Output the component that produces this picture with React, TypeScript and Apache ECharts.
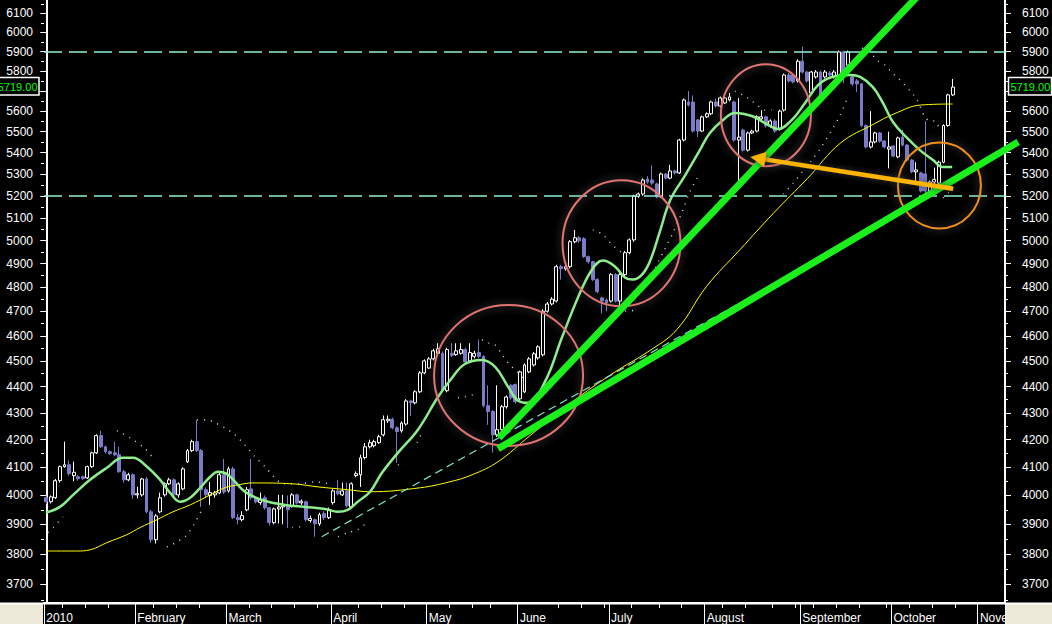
import React, { useEffect, useRef } from "react";
import * as echarts from "echarts";

// Daily candles, [open, high, low, close]
const jan: number[][] = [
  [3992, 4000, 3970, 3978], [3978, 4000, 3972, 3995], [3992, 4058, 3988, 4052], [4052, 4106, 4045, 4102],
  [4102, 4193, 4098, 4109], [4109, 4124, 4070, 4077], [4070, 4120, 4050, 4082], [4066, 4072, 4052, 4059],
  [4066, 4070, 4055, 4059], [4062, 4106, 4058, 4102], [4102, 4156, 4098, 4152], [4152, 4220, 4148, 4215],
  [4215, 4233, 4170, 4174], [4174, 4178, 4150, 4156], [4156, 4160, 4144, 4149], [4152, 4193, 4140, 4145],
  [4145, 4175, 4080, 4084], [4084, 4090, 4045, 4055], [4055, 4080, 4050, 4073], [4073, 4078, 3988, 4002],
];
const feb: number[][] = [
  [4002, 4030, 3990, 4006], [4002, 4062, 3996, 4058], [4058, 4065, 3938, 3943], [3943, 3950, 3838, 3848],
  [3848, 3935, 3835, 3929], [3943, 4010, 3938, 3992], [4002, 4046, 3996, 4041], [4041, 4062, 4036, 4055],
  [4055, 4060, 3995, 4002], [4002, 4046, 3992, 4041], [4023, 4100, 4018, 4094], [4120, 4166, 4115, 4160],
  [4160, 4200, 4155, 4193], [4193, 4274, 4155, 4160], [4160, 4166, 3960, 4020], [4020, 4028, 3990, 4002],
  [4000, 4048, 3967, 4010], [4002, 4016, 3992, 4009], [4009, 4080, 4004, 4073], [4073, 4130, 4005, 4012],
];
const mar: number[][] = [
  [4016, 4102, 4010, 4094], [4094, 4102, 3918, 3923], [3923, 3935, 3900, 3916], [3916, 3945, 3910, 3930],
  [3950, 4030, 3945, 4020], [4023, 4130, 3985, 3992], [3992, 3996, 3972, 3978], [3975, 4010, 3967, 3985],
  [3992, 4000, 3950, 3957], [3957, 3960, 3896, 3906], [3906, 3958, 3900, 3953], [3953, 4002, 3903, 3960],
  [3960, 4002, 3900, 3964], [3962, 4000, 3888, 3950], [3964, 4008, 3958, 4002], [4002, 4006, 3968, 3974],
  [3974, 3986, 3967, 3980], [3978, 3982, 3910, 3916], [3913, 3930, 3906, 3920], [3916, 3920, 3858, 3902],
  [3902, 3940, 3895, 3933], [3937, 3945, 3915, 3923], [3923, 3958, 3918, 3950],
];
const apr: number[][] = [
  [3975, 4022, 3968, 4016], [4016, 4055, 4000, 4006], [4002, 4045, 3998, 4016], [4016, 4045, 3958, 3964],
  [3960, 4046, 3955, 4041], [4070, 4085, 4064, 4077], [4073, 4145, 4030, 4134], [4135, 4188, 4128, 4174],
  [4174, 4200, 4168, 4189], [4178, 4200, 4172, 4193], [4189, 4218, 4185, 4211], [4218, 4290, 4212, 4274],
  [4270, 4290, 4262, 4276], [4276, 4282, 4238, 4244], [4244, 4250, 4116, 4230], [4233, 4268, 4226, 4262],
  [4258, 4352, 4252, 4345], [4345, 4350, 4288, 4338], [4338, 4386, 4332, 4380], [4380, 4460, 4375, 4453],
  [4453, 4506, 4448, 4500],
];
const may: number[][] = [
  [4472, 4515, 4468, 4508], [4508, 4548, 4502, 4540], [4530, 4570, 4525, 4548], [4530, 4538, 4380, 4388],
  [4384, 4552, 4378, 4545], [4530, 4570, 4515, 4522], [4525, 4570, 4520, 4540], [4530, 4570, 4525, 4545],
  [4545, 4552, 4490, 4496], [4500, 4570, 4494, 4533], [4518, 4540, 4510, 4530], [4533, 4585, 4510, 4518],
  [4518, 4522, 4320, 4327], [4327, 4405, 4255, 4305], [4305, 4310, 4153, 4218], [4218, 4405, 4210, 4237],
  [4237, 4330, 4230, 4323], [4323, 4366, 4316, 4360], [4405, 4410, 4350, 4357], [4408, 4412, 4335, 4342],
];
const jun: number[][] = [
  [4353, 4462, 4348, 4457], [4380, 4490, 4375, 4484], [4457, 4515, 4452, 4508], [4484, 4535, 4478, 4528],
  [4512, 4562, 4505, 4556], [4524, 4708, 4518, 4700], [4700, 4738, 4694, 4730], [4730, 4758, 4724, 4750],
  [4742, 4895, 4736, 4887], [4887, 4895, 4832, 4878], [4878, 4895, 4870, 4887], [4887, 5002, 4880, 4995],
  [4995, 5047, 4988, 5012], [5012, 5020, 4990, 4999], [5008, 5015, 4925, 4930], [4930, 4935, 4900, 4908],
  [4908, 4912, 4826, 4832], [4832, 4838, 4775, 4781], [4755, 4760, 4690, 4742], [4746, 4752, 4700, 4735],
];
const jul: number[][] = [
  [4742, 4860, 4736, 4853], [4853, 4860, 4736, 4742], [4742, 4860, 4700, 4853], [4853, 4955, 4846, 4947],
  [4947, 5010, 4940, 5003], [5003, 5205, 4995, 5198], [5198, 5215, 5190, 5208], [5208, 5280, 5200, 5272],
  [5277, 5290, 5255, 5263], [5272, 5340, 5250, 5258], [5254, 5260, 5188, 5195], [5195, 5306, 5190, 5300],
  [5300, 5306, 5275, 5281], [5281, 5343, 5276, 5314], [5314, 5320, 5298, 5305], [5305, 5466, 5300, 5460],
  [5460, 5662, 5454, 5655], [5645, 5700, 5622, 5630], [5645, 5677, 5496, 5503], [5557, 5562, 5474, 5503],
  [5503, 5578, 5498, 5572],
];
const aug: number[][] = [
  [5572, 5594, 5566, 5587], [5587, 5652, 5580, 5645], [5645, 5662, 5618, 5625], [5625, 5672, 5618, 5665],
  [5640, 5672, 5635, 5665], [5655, 5690, 5648, 5670], [5645, 5652, 5452, 5460], [5460, 5665, 5232, 5474],
  [5508, 5515, 5405, 5412], [5412, 5500, 5405, 5494], [5494, 5510, 5488, 5503], [5503, 5580, 5497, 5572],
  [5562, 5605, 5555, 5572], [5572, 5578, 5520, 5528], [5528, 5560, 5520, 5552], [5552, 5560, 5495, 5503],
  [5512, 5607, 5505, 5600], [5605, 5787, 5598, 5780], [5780, 5790, 5742, 5750], [5780, 5790, 5738, 5745],
  [5750, 5860, 5742, 5850],
];
const sep: number[][] = [
  [5850, 5925, 5788, 5795], [5795, 5800, 5742, 5750], [5690, 5800, 5682, 5795], [5770, 5805, 5762, 5795],
  [5795, 5802, 5662, 5670], [5770, 5805, 5762, 5795], [5790, 5800, 5772, 5780], [5770, 5805, 5762, 5795],
  [5770, 5905, 5762, 5898], [5898, 5905, 5740, 5770], [5830, 5905, 5820, 5898], [5770, 5780, 5725, 5735],
  [5750, 5760, 5695, 5735], [5735, 5740, 5522, 5530], [5530, 5535, 5420, 5427], [5427, 5600, 5420, 5451],
  [5451, 5500, 5444, 5494], [5494, 5500, 5448, 5455], [5455, 5460, 5420, 5427], [5417, 5500, 5326, 5427],
];
const oct: number[][] = [
  [5431, 5436, 5378, 5384], [5380, 5476, 5374, 5470], [5474, 5508, 5430, 5436], [5436, 5440, 5358, 5365],
  [5365, 5370, 5303, 5310], [5310, 5355, 5260, 5319], [5305, 5310, 5215, 5222], [5300, 5550, 5200, 5222],
  [5222, 5270, 5200, 5263], [5263, 5330, 5250, 5275], [5258, 5362, 5250, 5355], [5355, 5536, 5350, 5530],
  [5530, 5686, 5524, 5680], [5680, 5760, 5675, 5719],
];

// x axis: trading-day slots
const SLOTS = 211;
const monthStarts = [0, 20, 40, 63, 84, 104, 124, 145, 166, 186, 205];
const monthNames = ["2010", "February", "March", "April", "May", "June", "July", "August", "September", "October", "November"];
const weekTicks = [4, 9, 14, 24, 29, 34, 45, 50, 55, 60, 69, 74, 79, 89, 94, 98, 113, 118, 123, 129, 135, 140, 149, 154, 160, 165, 169, 174, 179, 185, 190, 195, 200];

// y axis (log scale)
const priceLabels = [3700, 3800, 3900, 4000, 4100, 4200, 4300, 4400, 4500, 4600, 4700, 4800, 4900, 5000, 5100, 5200, 5300, 5400, 5500, 5600, 5700, 5800, 5900, 6000, 6100];
const halfTicks = [3650, 3750, 3850, 3950, 4050, 4150, 4250, 4350, 4450, 4550, 4650, 4750, 4850, 4950, 5050, 5150, 5250, 5350, 5450, 5550, 5650, 5750, 5850, 5950, 6050, 6150];
const PRICE_MIN = 3640.5;
const PRICE_MAX = 6172.2;

// indicator lines, [slot, price]
const greenMA: number[][] = [
  [-0.1, 3940], [3.0, 3960], [5.9, 4002], [9.6, 4055], [13.3, 4098], [16.8, 4134], [19.0, 4134], [22.1, 4102],
  [25.0, 4055], [27.2, 4009], [29.4, 3978], [31.6, 3992], [33.8, 4027], [36.0, 4066], [37.7, 4084], [39.9, 4073],
  [43.6, 4013], [48.0, 3981], [52.4, 3967], [56.8, 3960], [61.2, 3953], [64.0, 3943], [66.2, 3950], [68.4, 3978],
  [71.1, 4013], [73.7, 4080], [77.2, 4152], [81.6, 4237], [86.0, 4360], [89.1, 4434], [91.9, 4488], [95.7, 4504],
  [98.6, 4476], [101.4, 4399], [103.6, 4346], [105.8, 4338], [109.5, 4419], [113.2, 4592], [116.7, 4755],
  [119.8, 4874], [122.2, 4913], [124.9, 4887], [127.1, 4840], [128.8, 4832], [130.8, 4853], [132.5, 4908],
  [134.7, 5038], [137.0, 5181], [140.2, 5291], [143.5, 5412], [145.7, 5494], [148.6, 5557], [151.2, 5591],
  [154.9, 5576], [157.8, 5542], [160.7, 5513], [163.7, 5557], [166.6, 5640], [169.5, 5730], [172.5, 5770],
  [176.5, 5780], [178.7, 5770], [181.5, 5719], [183.7, 5640], [185.9, 5547], [189.0, 5470], [191.8, 5412],
  [194.7, 5365], [196.7, 5333], [198.9, 5333],
];
const yellowMA: number[][] = [
  [-0.1, 3810], [6.7, 3810], [9.6, 3814], [13.3, 3838], [17.7, 3865], [20.6, 3889], [24.3, 3916], [27.8, 3943],
  [31.6, 3967], [36.0, 4002], [39.2, 4027], [42.1, 4037], [45.2, 4044], [54.0, 4041], [59.7, 4030], [66.2, 4020],
  [71.1, 4013], [82.1, 4027], [88.6, 4048], [93.5, 4073], [99.2, 4120], [106.2, 4215], [116.7, 4357],
  [124.9, 4457], [132.1, 4536], [138.4, 4624], [145.0, 4804], [152.3, 4960], [159.7, 5122], [167.2, 5281],
  [174.4, 5446], [181.7, 5537], [186.1, 5586], [192.0, 5630], [199.0, 5635],
];
const envelopeUpper: number[][][] = [
  [[15.5, 4233], [18.4, 4207], [21.7, 4167], [23.4, 4134]],
  [[33.1, 4274], [35.3, 4274], [37.0, 4263], [39.2, 4244], [41.4, 4218], [43.6, 4181], [45.8, 4138], [48.0, 4102],
   [50.2, 4062], [52.0, 4041], [55.7, 4041], [59.0, 4048], [61.9, 4041]],
  [[95.7, 4584], [97.0, 4572], [98.5, 4564], [100.1, 4524], [101.4, 4492], [103.4, 4457], [105.1, 4426]],
  [[120.0, 5047], [122.0, 5029], [124.2, 4982], [126.4, 4947]],
  [[151.2, 5699], [153.4, 5674], [154.9, 5650], [156.3, 5625], [157.8, 5605], [159.3, 5605]],
  [[179.1, 5918], [180.9, 5893], [182.6, 5851], [184.2, 5830], [185.7, 5790], [187.0, 5765], [188.5, 5729],
   [190.1, 5689], [191.2, 5655], [192.9, 5572], [194.0, 5552], [195.1, 5552], [196.2, 5503]],
];
const envelopeLower: number[][][] = [
  [[0.4, 3872], [1.5, 3889], [3.7, 3926]],
  [[26.5, 3824], [27.6, 3831], [28.7, 3841], [30.5, 3858], [32.4, 3899], [34.4, 3957]],
  [[54.0, 3889], [56.1, 3892]],
  [[64.1, 3858], [66.2, 3872], [68.4, 3882], [70.6, 3909]],
  [[77.2, 4109], [78.8, 4109]],
  [[81.4, 4189], [82.5, 4226]],
  [[90.4, 4357], [91.9, 4361], [93.5, 4368], [94.8, 4376]],
  [[127.1, 4701], [128.2, 4701], [129.3, 4705]],
  [[133.7, 4883], [135.5, 4951], [137.7, 5038], [139.6, 5127], [141.3, 5218], [142.9, 5281]],
  [[161.8, 5208], [164.0, 5258], [166.0, 5310], [168.1, 5365], [170.3, 5431], [172.5, 5508], [174.3, 5581], [176.0, 5670]],
  [[196.9, 5190], [198.0, 5213], [199.1, 5218]],
];

// drawn annotations, [slot, price]
const levelLines = [5900, 5200];
const dashedTrend: number[][] = [[60.5, 3858], [173.2, 4960]];
const steepTrend: number[][] = [[99.4, 4207], [194.9, 6287]];
const shallowTrend: number[][] = [[99.2, 4167], [213.4, 5451]];
const circleCenters: number[][] = [[101.5, 4443], [126.3, 4988], [158.0, 5580], [196.1, 5247]];
const arrowTail = [199.1, 5232];
const arrowTip = [154.6, 5379];
const lastClose = 5719;

const FONT = "'Liberation Sans', Arial, sans-serif";

export default function App() {
  const ref = useRef<HTMLDivElement>(null);

  useEffect(() => {
    const el = ref.current as HTMLDivElement;
    const chart = echarts.init(el, null, { renderer: "svg" });
    const L = Math.log;
    const candles = [...jan, ...feb, ...mar, ...apr, ...may, ...jun, ...jul, ...aug, ...sep, ...oct];
    const cats = Array.from({ length: SLOTS }, (_, i) => String(i));
    const monthSet = new Set(monthStarts);
    const weekSet = new Set(weekTicks);
    const toLog = (pts: number[][]) => pts.map((p) => [p[0], L(p[1])]);

    const yBase: any = {
      type: "value",
      min: L(PRICE_MIN),
      max: L(PRICE_MAX),
      splitLine: { show: false },
    };
    const majorAxis = (position: string, margin: number) => ({
      ...yBase,
      position,
      axisLine: { show: true, lineStyle: { color: "#ffffff", width: 2 } },
      axisTick: { show: true, length: 6, lineStyle: { color: "#ffffff", width: 1 }, customValues: priceLabels.map(L) },
      axisLabel: {
        show: true,
        customValues: priceLabels.map(L),
        formatter: (v: number) => String(Math.round(Math.exp(v))),
        color: "#ffffff",
        fontSize: 12,
        fontFamily: FONT,
        margin,
      },
    });
    const minorAxis = (position: string) => ({
      ...yBase,
      position,
      axisLine: { show: false },
      axisTick: { show: true, length: 3, lineStyle: { color: "#ffffff", width: 1 }, customValues: halfTicks.map(L) },
      axisLabel: { show: false },
    });

    const dotted = (seg: number[][]) => ({
      type: "line",
      xAxisIndex: 1,
      yAxisIndex: 0,
      data: toLog(seg),
      smooth: 0.3,
      symbol: "none",
      silent: true,
      z: 3,
      lineStyle: { color: "#d4d4d4", width: 1.5, type: [1, 6] },
    });

    const option: any = {
      animation: false,
      backgroundColor: "#000000",
      grid: { left: 44, right: 47, top: 0, bottom: 21 },
      xAxis: [
        {
          type: "category",
          data: cats,
          boundaryGap: true,
          position: "bottom",
          axisLine: { show: true, lineStyle: { color: "#ffffff", width: 2 } },
          axisTick: { show: true, length: 5, interval: (i: number) => weekSet.has(i), lineStyle: { color: "#ffffff", width: 1 } },
          axisLabel: { show: false },
          splitLine: { show: false },
        },
        { type: "value", min: -0.5, max: SLOTS - 0.5, show: false },
        {
          type: "category",
          data: cats,
          boundaryGap: true,
          position: "bottom",
          axisLine: { show: false },
          axisTick: { show: true, length: 21, interval: (i: number) => monthSet.has(i), lineStyle: { color: "#ffffff", width: 1 } },
          axisLabel: {
            show: true,
            interval: (i: number) => monthSet.has(i),
            formatter: (v: string) => {
              const k = monthStarts.indexOf(Number(v));
              return k >= 0 ? monthNames[k] : "";
            },
            color: "#ffffff",
            fontSize: 12,
            fontFamily: FONT,
            align: "left",
            margin: 9,
          },
          splitLine: { show: false },
        },
      ],
      yAxis: [majorAxis("left", 11), minorAxis("left"), majorAxis("right", 17), minorAxis("right")],
      series: [
        {
          type: "candlestick",
          xAxisIndex: 0,
          yAxisIndex: 0,
          barWidth: 3.4,
          data: candles.map((c) => [L(c[0]), L(c[3]), L(c[2]), L(c[1])]),
          itemStyle: {
            color: "#000000",
            color0: "#7B7BC8",
            borderColor: "#ffffff",
            borderColor0: "#7B7BC8",
            borderWidth: 1,
          },
          z: 2,
          markLine: {
            silent: true,
            precision: 10,
            symbol: ["none", "none"],
            label: { show: false },
            lineStyle: { color: "#8EF0D6", type: [18, 7], width: 1.5 },
            data: levelLines.map((v) => ({ yAxis: L(v) })),
          },
        },
        ...envelopeUpper.map(dotted),
        ...envelopeLower.map(dotted),
        {
          type: "line",
          xAxisIndex: 1,
          yAxisIndex: 0,
          data: toLog(yellowMA),
          smooth: 0.4,
          symbol: "none",
          silent: true,
          z: 3,
          lineStyle: { color: "#FFFF00", width: 1 },
        },
        {
          type: "line",
          xAxisIndex: 1,
          yAxisIndex: 0,
          data: toLog(greenMA),
          smooth: 0.4,
          symbol: "none",
          silent: true,
          z: 4,
          lineStyle: { color: "#8EEE8E", width: 2.5 },
        },
        {
          type: "line",
          xAxisIndex: 1,
          yAxisIndex: 0,
          data: toLog(dashedTrend),
          symbol: "none",
          silent: true,
          z: 4,
          lineStyle: { color: "#7FE6D0", width: 1.2, type: [8, 5] },
        },
      ],
    };
    chart.setOption(option);

    const toPx = (pt: number[]) =>
      chart.convertToPixel({ xAxisIndex: 1, yAxisIndex: 0 } as any, [pt[0], L(pt[1])]) as unknown as number[];

    const radii = [
      [74.5, 70.5],
      [59, 63],
      [45, 51],
      [41.5, 43],
    ];
    const circleColors = ["#E27373", "#E27373", "#E27373", "#F08E14"];
    const graphics: any[] = [];
    circleCenters.forEach((c, k) => {
      const [cx, cy] = toPx(c);
      graphics.push({
        type: "ellipse",
        silent: true,
        z: 5,
        shape: { cx, cy, rx: radii[k][0], ry: radii[k][1] },
        style: {
          fill: "none",
          stroke: circleColors[k],
          lineWidth: 2,
          shadowBlur: 8,
          shadowColor: "rgba(130,130,130,0.7)",
        },
      });
    });

    // thick trend lines, positioned through the axes' scales
    [steepTrend, shallowTrend].forEach((seg) => {
      const [x1, y1] = toPx(seg[0]);
      const [x2, y2] = toPx(seg[1]);
      graphics.push({
        type: "line",
        silent: true,
        z: 6,
        shape: { x1, y1, x2, y2 },
        style: { stroke: "#1CF01C", lineWidth: 7, lineCap: "butt" },
      });
    });

    const [tx, ty] = toPx(arrowTail);
    const [hx, hy] = toPx(arrowTip);
    const dx = hx - tx;
    const dy = hy - ty;
    const len = Math.hypot(dx, dy);
    const ux = dx / len;
    const uy = dy / len;
    const headLen = 15;
    const headHalf = 7.5;
    const bx = hx - ux * headLen;
    const by = hy - uy * headLen;
    const nx = -uy;
    const ny = ux;
    graphics.push({
      type: "line",
      silent: true,
      z: 7,
      shape: { x1: tx, y1: ty, x2: bx + ux * 2, y2: by + uy * 2 },
      style: { stroke: "#FFB400", lineWidth: 4.5, shadowBlur: 6, shadowColor: "rgba(60,60,60,0.9)" },
    });
    graphics.push({
      type: "polygon",
      silent: true,
      z: 7,
      shape: {
        points: [
          [hx, hy],
          [bx + nx * headHalf, by + ny * headHalf],
          [bx - nx * headHalf, by - ny * headHalf],
        ],
      },
      style: { fill: "#FFB400", shadowBlur: 6, shadowColor: "rgba(60,60,60,0.9)" },
    });

    const yLast = toPx([0, lastClose])[1];
    const label = `${lastClose.toFixed(2)}`;
    graphics.push({
      type: "rect",
      silent: true,
      z: 20,
      shape: { x: -4, y: yLast - 9.5, width: 43, height: 17.5 },
      style: { fill: "#000000", stroke: "#ffffff", lineWidth: 1.5 },
    });
    graphics.push({
      type: "text",
      silent: true,
      z: 21,
      x: 37.5,
      y: yLast - 0.5,
      style: {
        text: label,
        fill: "#00FF00",
        font: `11px ${FONT}`,
        align: "right",
        textAlign: "right",
        verticalAlign: "middle",
        textVerticalAlign: "middle",
      },
    });
    graphics.push({
      type: "rect",
      silent: true,
      z: 20,
      shape: { x: 1008.5, y: yLast - 9.5, width: 43, height: 17.5 },
      style: { fill: "#000000", stroke: "#ffffff", lineWidth: 1.5 },
    });
    graphics.push({
      type: "text",
      silent: true,
      z: 21,
      x: 1010.5,
      y: yLast - 0.5,
      style: {
        text: label,
        fill: "#00FF00",
        font: `11px ${FONT}`,
        align: "left",
        textAlign: "left",
        verticalAlign: "middle",
        textVerticalAlign: "middle",
      },
    });

    // bottom corners and strip top line
    graphics.push({
      type: "rect",
      silent: true,
      z: 30,
      shape: { x: 0, y: 604, width: 43, height: 20 },
      style: { fill: "#ECE9D8" },
    });
    graphics.push({
      type: "rect",
      silent: true,
      z: 30,
      shape: { x: 1006, y: 604, width: 46, height: 20 },
      style: { fill: "#ECE9D8" },
    });
    graphics.push({
      type: "line",
      silent: true,
      z: 31,
      shape: { x1: 0, y1: 603.5, x2: 1052, y2: 603.5 },
      style: { stroke: "#ffffff", lineWidth: 2 },
    });

    chart.setOption({ graphic: graphics });

    return () => {
      chart.dispose();
    };
  }, []);

  return (
    <div
      ref={ref}
      style={{ position: "fixed", left: 0, top: 0, width: 1052, height: 624, background: "#000000" }}
    />
  );
}
